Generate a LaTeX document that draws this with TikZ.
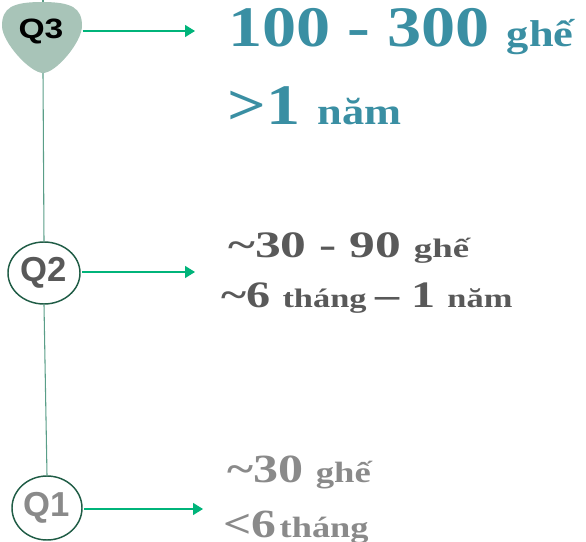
\documentclass[tikz,border=0pt]{standalone}
\usepackage{fontspec}
\setmainfont{Liberation Serif}
\newfontfamily\labelfont{Liberation Sans}
\usetikzlibrary{arrows.meta,shapes.geometric}
\definecolor{tealtext}{HTML}{3A8FA3}
\definecolor{graytext}{HTML}{595959}
\definecolor{lighttext}{HTML}{8A8A8A}
\definecolor{arrowgreen}{HTML}{00B47A}
\definecolor{linegreen}{HTML}{5A9E88}
\definecolor{ringgreen}{HTML}{1F5C45}
\definecolor{pickfill}{HTML}{A8C4B8}
\newcommand\tildesign{\char"7E\relax}
\newcommand\fsz[1]{\fontsize{#1}{#1}\selectfont}
\begin{document}
\begin{tikzpicture}[x=0.75pt,y=-0.75pt,
    ring/.style={ellipse,draw=ringgreen,line width=1.1pt,inner sep=0pt,
      font=\labelfont\bfseries\fsz{26}},
    pointer/.style={draw=arrowgreen,line width=1.1pt,shorten <=1pt,
      -{Triangle[length=7.5pt,width=9pt]}},
    timeline/.style={draw=linegreen,line width=0.8pt},
    info/.style={anchor=base west,inner sep=0pt,font=\bfseries}]
  \useasboundingbox (0,0) rectangle (586,542);
  % timeline
  \coordinate (top) at (43,0);
  \coordinate (q3tip) at (43,73);
  \draw[timeline] (top) -- (q3tip);
  \fill[pickfill] (43,73) .. controls (30,73) and (2,42) .. (2,26)
    .. controls (2,8) and (12,2) .. (42,2)
    .. controls (72,2) and (82,8) .. (82,26)
    .. controls (82,42) and (56,73) .. (43,73);
  \node[inner sep=0pt,minimum width=60pt,minimum height=30pt,
    font=\labelfont\bfseries\fsz{21}] (q3) at (41,31) {\scalebox{1.2}[1]{Q3}};
  \node[ring,minimum width=54pt,minimum height=46.5pt,text=graytext] (q2) at (44,273) {Q2};
  \node[ring,minimum width=52.5pt,minimum height=48pt,text=lighttext] (q1) at (47,508) {Q1};
  \draw[timeline] (q3tip) -- (q2.north);
  \draw[timeline] (q2.south) -- (q1.north);
  % arrows
  \coordinate (a3) at (195,31);
  \coordinate (a2) at (195,272);
  \coordinate (a1) at (203,509);
  \foreach \q/\t in {q3/a3,q2/a2,q1/a1} {
    \draw[pointer] (\q.east |- \t) -- (\t);
  }
  % texts
  \node[info,text=tealtext,xscale=1.19] (q3seats) at (228,47)
    {\fsz{43}100 - 300 \fsz{28}ghế};
  \node[info,text=tealtext,xscale=1.19] (q3time) at (227,125)
    {\fsz{43}>1 \fsz{28}năm};
  \node[info,text=graytext,xscale=1.38] (q2seats) at (228,257)
    {\fsz{28}\tildesign30 - 90 \fsz{20}ghế};
  \node[info,text=graytext,xscale=1.29] (q2time) at (221,307)
    {\fsz{28}\tildesign6 \fsz{20}tháng \fsz{28}– 1 \fsz{20}năm};
  \node[info,text=lighttext,xscale=1.25] (q1seats) at (227,482)
    {\fsz{30}\tildesign30 \fsz{22}ghế};
  \node[info,text=lighttext,xscale=1.24] (q1time) at (223,537)
    {\fsz{30}<6\hspace{2pt}\fsz{22}tháng};
\end{tikzpicture}
\end{document}
